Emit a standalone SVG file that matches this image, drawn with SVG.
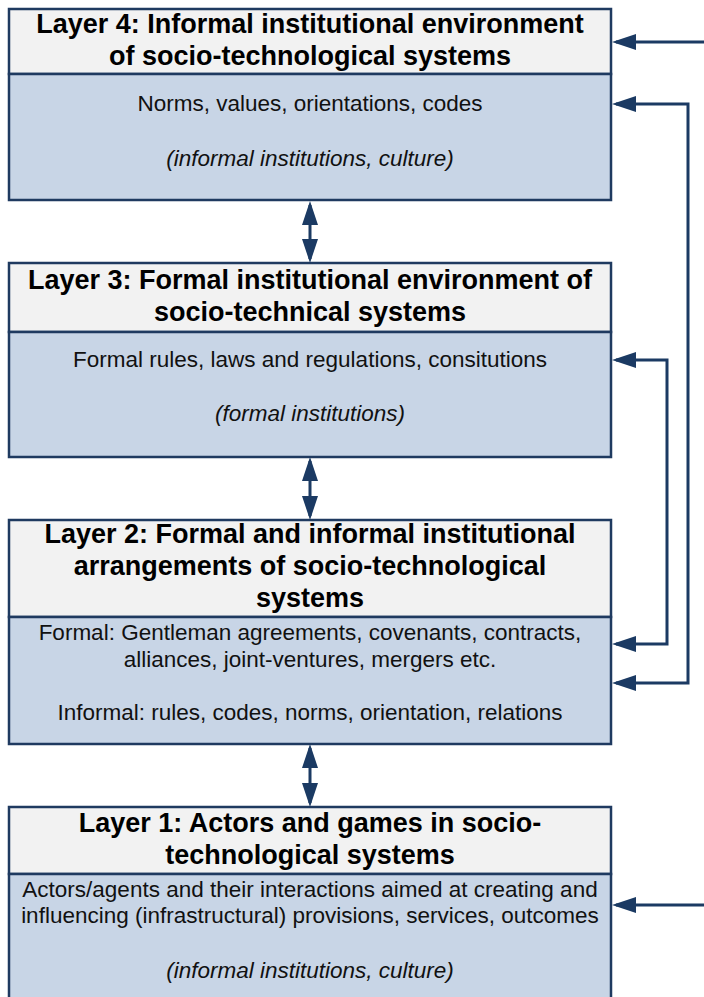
<svg xmlns="http://www.w3.org/2000/svg" width="704" height="997" viewBox="0 0 704 997">
<style>
.hd{fill:#f2f2f2;stroke:#1f3a60;stroke-width:2.5}
.bd{fill:#c8d5e6;stroke:#1f3a60;stroke-width:2.5}
.t{font-family:"Liberation Sans",Arial,sans-serif;font-size:27px;font-weight:bold;fill:#000;text-anchor:middle}
.b{font-family:"Liberation Sans",Arial,sans-serif;font-size:22.5px;fill:#111;text-anchor:middle}
.i{font-style:italic}
.c{fill:none;stroke:#1b3a63;stroke-width:3}
</style>
<defs>
<marker id="ah" viewBox="0 0 24 16" refX="20" refY="8" markerWidth="24" markerHeight="16" markerUnits="userSpaceOnUse" orient="auto-start-reverse">
<path d="M0,0 L24,8 L0,16 z" fill="#1b3a63"/>
</marker>
</defs>
<rect width="704" height="997" fill="#fff"/>
<g id="layer4">
<rect class="hd" x="9" y="9" width="602" height="65"/>
<rect class="bd" x="9" y="74" width="602" height="126"/>
<text class="t" x="310" y="33">Layer 4: Informal institutional environment</text>
<text class="t" x="310" y="65">of socio-technological systems</text>
<text class="b" x="310" y="111">Norms, values, orientations, codes</text>
<text class="b i" x="310" y="166">(informal institutions, culture)</text>
</g>
<g id="layer3">
<rect class="hd" x="9" y="263" width="602" height="69"/>
<rect class="bd" x="9" y="332" width="602" height="125"/>
<text class="t" x="310" y="289">Layer 3: Formal institutional environment of</text>
<text class="t" x="310" y="321">socio-technical systems</text>
<text class="b" x="310" y="367">Formal rules, laws and regulations, consitutions</text>
<text class="b i" x="310" y="421">(formal institutions)</text>
</g>
<g id="layer2">
<rect class="hd" x="9" y="520" width="602" height="97"/>
<rect class="bd" x="9" y="617" width="602" height="127"/>
<text class="t" x="310" y="543">Layer 2: Formal and informal institutional</text>
<text class="t" x="310" y="575">arrangements of socio-technological</text>
<text class="t" x="310" y="607">systems</text>
<text class="b" x="310" y="640">Formal: Gentleman agreements, covenants, contracts,</text>
<text class="b" x="310" y="667">alliances, joint-ventures, mergers etc.</text>
<text class="b" x="310" y="720">Informal: rules, codes, norms, orientation, relations</text>
</g>
<g id="layer1">
<rect class="hd" x="9" y="807" width="602" height="67"/>
<rect class="bd" x="9" y="874" width="602" height="130"/>
<text class="t" x="310" y="832">Layer 1: Actors and games in socio-</text>
<text class="t" x="310" y="864">technological systems</text>
<text class="b" x="310" y="897">Actors/agents and their interactions aimed at creating and</text>
<text class="b" x="310" y="923">influencing (infrastructural) provisions, services, outcomes</text>
<text class="b i" x="310" y="978">(informal institutions, culture)</text>
</g>
<g id="connectors">
<line class="c" x1="310" y1="205" x2="310" y2="259" marker-start="url(#ah)" marker-end="url(#ah)"/>
<line class="c" x1="310" y1="461" x2="310" y2="516" marker-start="url(#ah)" marker-end="url(#ah)"/>
<line class="c" x1="310" y1="748" x2="310" y2="803" marker-start="url(#ah)" marker-end="url(#ah)"/>
<line class="c" x1="704" y1="42" x2="616" y2="42" marker-end="url(#ah)"/>
<line class="c" x1="704" y1="905" x2="616" y2="905" marker-end="url(#ah)"/>
<polyline class="c" points="616,104 688,104 688,683 616,683" marker-start="url(#ah)" marker-end="url(#ah)"/>
<polyline class="c" points="616,360 667,360 667,644 616,644" marker-start="url(#ah)" marker-end="url(#ah)"/>
</g>
</svg>
